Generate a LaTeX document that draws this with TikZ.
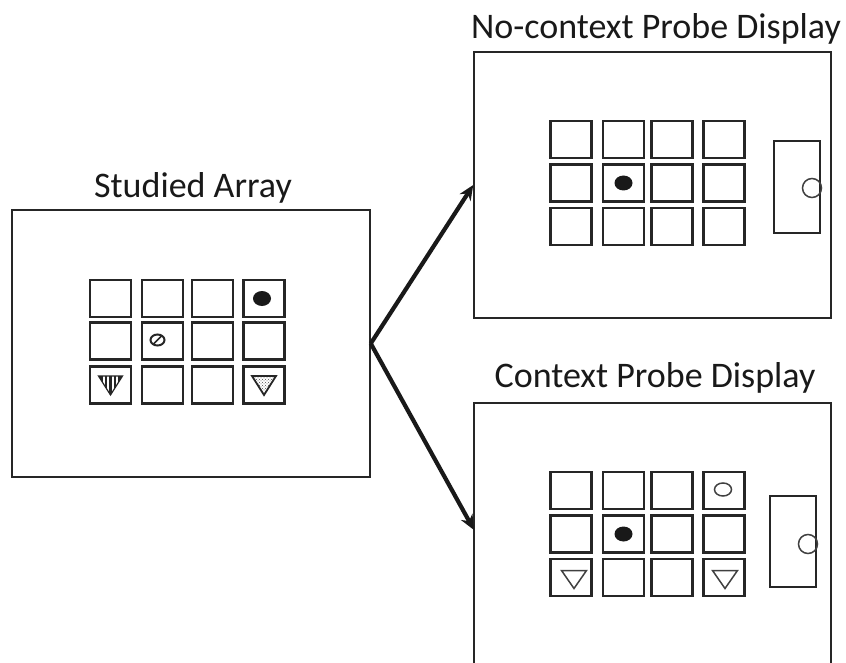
\documentclass[tikz,border=0pt]{standalone}
\usepackage{fontspec}
\setmainfont{Carlito}
\usetikzlibrary{arrows.meta,patterns}

\begin{document}
\begin{tikzpicture}
        [x=1pt, y=-1pt,
        panel/.style={draw=black!85, line width=1.5pt, inner sep=0pt},
        cell/.style={draw=black!85, line width=2.3pt, minimum width=41pt, minimum height=37pt, inner sep=0pt},
        sidebox/.style={draw=black!85, line width=1.9pt},
        title/.style={font=\fontsize{36}{42}\selectfont, text=black!90},
        arrow/.style={line width=4.2pt, black!90, -{Stealth[length=15pt,width=13pt]}},
        blob/.style={fill=black!90},
        hollow/.style={draw=black!75, line width=1.5pt}]

        \useasboundingbox (0,0) rectangle (846,663);

        % the three displays
        \node[panel, minimum width=358pt, minimum height=267pt] (studied) at (191,343.5) {};
        \node[panel, minimum width=357pt, minimum height=266pt] (nocontext) at (652.5,185) {};
        \coordinate (ctxnw) at (474,403);
        \coordinate (ctxne) at (831,403);
        \coordinate (ctxin) at (474,530);
        \draw[panel] (474,670) -- (ctxnw) -- (ctxne) -- (831,670);

        % Labels for the displays
        \node[title] (studiedlabel) at (193,188) {Studied Array};
        \node[title] (nocontextlabel) at (656,29) {No-context Probe Display};
        \node[title] (contextlabel) at (655,378) {Context Probe Display};

        % grids of cells
        \foreach \cx [count=\i] in {110.5,162.5,212.5,264}
          \foreach \cy [count=\j] in {298.5,341,385}
            \node[cell] (s\j\i) at (\cx,\cy) {};
        \foreach \cx [count=\i] in {571,623.5,672,724}
          \foreach \cy [count=\j] in {139.5,183,226.5}
            \node[cell] (n\j\i) at (\cx,\cy) {};
        \foreach \cx [count=\i] in {571,623.5,672,724}
          \foreach \cy [count=\j] in {490.5,534,577.5}
            \node[cell] (c\j\i) at (\cx,\cy) {};

        % items of the studied array
        \fill[blob] (s14) ++(-2,0) ellipse [x radius=9pt, y radius=7.5pt];
        \begin{scope}[shift={(s22)}]
          \draw[line width=2pt, black!85] (-5,-1) ellipse [x radius=7pt, y radius=5.5pt];
          \draw[line width=1.6pt, black!85] (-9,3) -- (-1,-5);
        \end{scope}
        \begin{scope}[shift={(s31)}]
          \begin{scope}
            \clip (-12,-9) -- (12,-9) -- (0,10) -- cycle;
            \foreach \sx in {-9,-4.5,0,4.5,9}
              \draw[line width=2.2pt, black!85] (\sx,-12) -- (\sx,12);
          \end{scope}
          \draw[line width=1.2pt, black!85] (-12,-9) -- (12,-9) -- (0,10) -- cycle;
        \end{scope}
        \begin{scope}[shift={(s34)}]
          \draw[line width=1.8pt, black!85, pattern=crosshatch dots, pattern color=black!70]
            (-12,-9) -- (12,-9) -- (0,10) -- cycle;
        \end{scope}

        % items of the no-context probe display
        \fill[blob] (n22) ellipse [x radius=9pt, y radius=7.5pt];
        \draw[sidebox] (774,141) rectangle (820,233);
        \draw[hollow] (812,188) circle (9.5pt);

        % items of the context probe display
        \draw[hollow] (c14) ++(-1,-1) ellipse [x radius=8.5pt, y radius=6.5pt];
        \fill[blob] (c22) ellipse [x radius=9pt, y radius=7.5pt];
        \draw[hollow] (c31) ++(3,1) +(-12.5,-8) -- +(12.5,-8) -- +(0,10) -- cycle;
        \draw[hollow] (c34) ++(1,1) +(-12.5,-8) -- +(12.5,-8) -- +(0,10) -- cycle;
        \draw[sidebox] (770,496) rectangle (816,587);
        \draw[hollow] (808,544) circle (9.5pt);

        % arrows from the studied array
        \draw[arrow] (studied.east) -- (nocontext.west);
        \draw[arrow] (studied.east) -- (ctxin);

        \end{tikzpicture}
\end{document}
